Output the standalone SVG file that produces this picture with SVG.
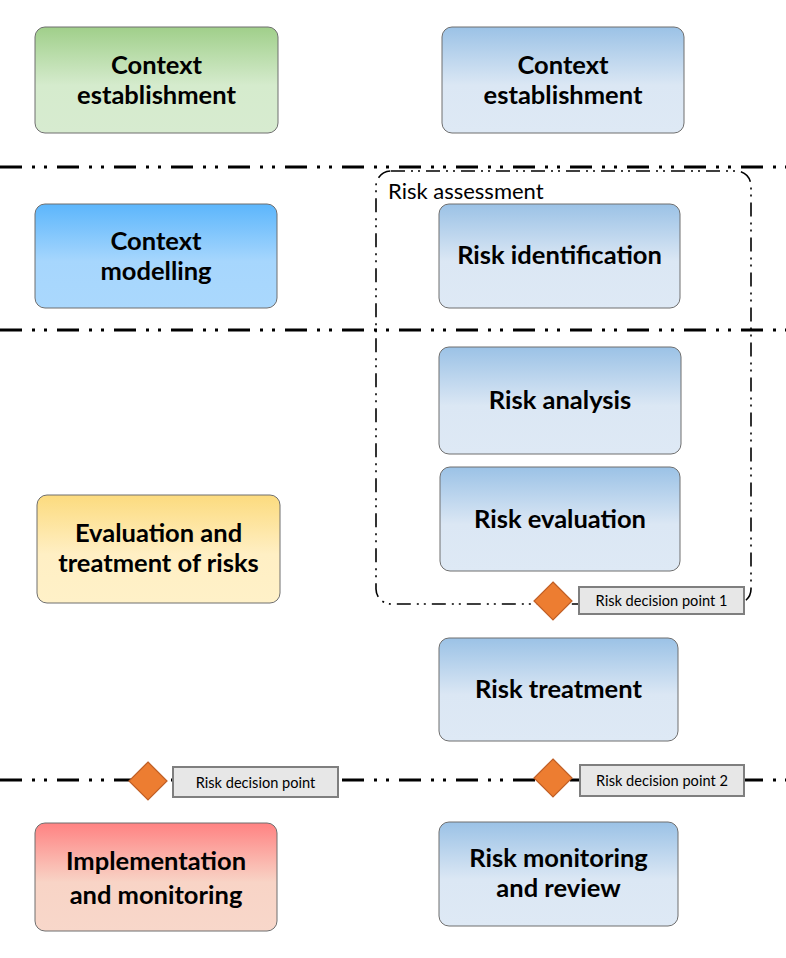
<svg xmlns="http://www.w3.org/2000/svg" width="786" height="958" viewBox="0 0 786 958">
<defs>
<linearGradient id="gGreen" x1="0" y1="0" x2="0" y2="1"><stop offset="0" stop-color="#a0cf8a"/><stop offset="0.55" stop-color="#d5ebcd"/><stop offset="1" stop-color="#d7ebd0"/></linearGradient>
<linearGradient id="gBlue" x1="0" y1="0" x2="0" y2="1"><stop offset="0" stop-color="#9bc2e6"/><stop offset="0.55" stop-color="#dbe7f4"/><stop offset="1" stop-color="#dee9f5"/></linearGradient>
<linearGradient id="gSky" x1="0" y1="0" x2="0" y2="1"><stop offset="0" stop-color="#5cb6fc"/><stop offset="0.55" stop-color="#a6d6fd"/><stop offset="1" stop-color="#aad8fd"/></linearGradient>
<linearGradient id="gYellow" x1="0" y1="0" x2="0" y2="1"><stop offset="0" stop-color="#fcdb7e"/><stop offset="0.55" stop-color="#ffefc4"/><stop offset="1" stop-color="#fff1c8"/></linearGradient>
<linearGradient id="gRed" x1="0" y1="0" x2="0" y2="1"><stop offset="0" stop-color="#ff8282"/><stop offset="0.55" stop-color="#f8d4c6"/><stop offset="1" stop-color="#f8d7ca"/></linearGradient>
</defs>
<style>
.box{stroke:#6f6f6f;stroke-width:1}
.t{font-family:Lato,"Open Sans","Liberation Sans",sans-serif;font-weight:bold;font-size:25.5px;fill:#000;text-anchor:middle}
.sep{stroke:#000;stroke-width:3;stroke-dasharray:22 10 3 9 3 10;fill:none}
.ra{stroke:#000;stroke-width:1.6;stroke-dasharray:14 6 2 5 2 6;fill:none}
.dia{fill:#ed7d31;stroke:#c05f26;stroke-width:1.2}
.lbl{fill:#e7e7e7;stroke:#7f7f7f;stroke-width:2}
.lt{font-family:Lato,"Open Sans","Liberation Sans",sans-serif;font-size:14.6px;fill:#000;text-anchor:middle}
.rat{font-family:Lato,"Open Sans","Liberation Sans",sans-serif;font-size:22px;fill:#000}
</style>
<rect width="786" height="958" fill="#fff"/>
<g id="connectors">
<line class="sep" x1="0" y1="167" x2="786" y2="167"/>
<line class="sep" x1="0" y1="330" x2="786" y2="330"/>
<line class="sep" x1="0" y1="780" x2="786" y2="780"/>
</g>
<g id="risk-assessment">
<rect class="ra" x="376" y="171" width="375" height="433" rx="15"/>
<text class="rat" x="388" y="199">Risk assessment</text>
</g>
<g id="n-context-left"><rect class="box" x="35" y="27" width="243" height="106" rx="10" fill="url(#gGreen)"/><text class="t" x="156.5" y="74">Context</text><text class="t" x="156.5" y="104">establishment</text></g>
<g id="n-context-right"><rect class="box" x="442" y="27" width="242" height="106" rx="10" fill="url(#gBlue)"/><text class="t" x="563" y="74">Context</text><text class="t" x="563" y="104">establishment</text></g>
<g id="n-context-modelling"><rect class="box" x="35" y="204" width="242" height="104" rx="10" fill="url(#gSky)"/><text class="t" x="156" y="250">Context</text><text class="t" x="156" y="280">modelling</text></g>
<g id="n-risk-identification"><rect class="box" x="439" y="204" width="241" height="104" rx="10" fill="url(#gBlue)"/><text class="t" x="559.5" y="264">Risk identification</text></g>
<g id="n-risk-analysis"><rect class="box" x="439" y="347" width="242" height="107" rx="10" fill="url(#gBlue)"/><text class="t" x="560" y="409">Risk analysis</text></g>
<g id="n-risk-evaluation"><rect class="box" x="440" y="467" width="240" height="104" rx="10" fill="url(#gBlue)"/><text class="t" x="560" y="528">Risk evaluation</text></g>
<g id="n-evaluation-treatment"><rect class="box" x="37" y="495" width="243" height="108" rx="10" fill="url(#gYellow)"/><text class="t" x="158.5" y="542">Evaluation and</text><text class="t" x="158.5" y="572">treatment of risks</text></g>
<g id="n-risk-treatment"><rect class="box" x="439" y="638" width="239" height="103" rx="10" fill="url(#gBlue)"/><text class="t" x="558.5" y="698">Risk treatment</text></g>
<g id="n-implementation"><rect class="box" x="35" y="823" width="242" height="108" rx="10" fill="url(#gRed)"/><text class="t" x="156" y="870">Implementation</text><text class="t" x="156" y="904">and monitoring</text></g>
<g id="n-risk-monitoring"><rect class="box" x="439" y="822" width="239" height="104" rx="10" fill="url(#gBlue)"/><text class="t" x="558.5" y="867">Risk monitoring</text><text class="t" x="558.5" y="897">and review</text></g>
<g id="dp1"><polygon class="dia" points="553,582 572,601 553,620 534,601"/><rect class="lbl" x="579" y="587" width="165" height="27"/><text class="lt" x="661.5" y="606">Risk decision point 1</text></g>
<g id="dp0"><polygon class="dia" points="148,762 167,781 148,800 129,781"/><rect class="lbl" x="173" y="767" width="165" height="30"/><text class="lt" x="255.5" y="788">Risk decision point</text></g>
<g id="dp2"><polygon class="dia" points="553,759 572,778 553,797 534,778"/><rect class="lbl" x="580" y="765" width="164" height="31"/><text class="lt" x="662" y="786">Risk decision point 2</text></g>
</svg>
